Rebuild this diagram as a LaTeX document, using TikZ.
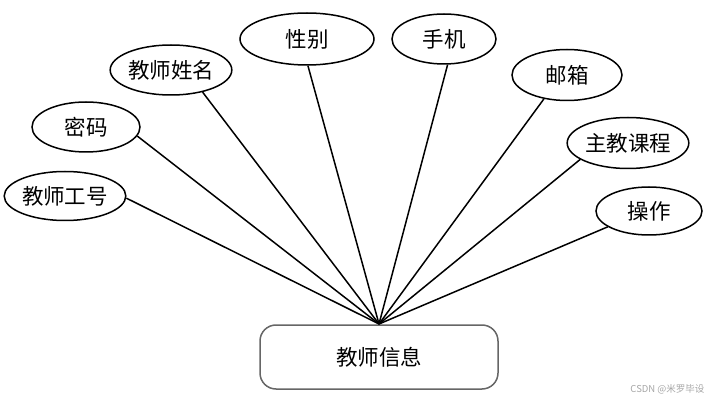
\documentclass[tikz,border=0pt]{standalone}
\usepackage{fontspec}
\newfontfamily\cjk{Noto Sans CJK SC}
\usetikzlibrary{shapes.geometric}
\begin{document}
\begin{tikzpicture}[x=1pt,y=-1pt,
  attr/.style={draw=black,line width=1.5pt,ellipse,inner sep=0pt,font=\cjk\fontsize{21.5}{24}\selectfont},
  ent/.style={draw=black!60,line width=1.5pt,rounded corners=16pt,minimum width=238pt,minimum height=64pt,inner sep=0pt,font=\cjk\fontsize{21.5}{24}\selectfont},
  link/.style={line width=1.5pt}]
\useasboundingbox (0,0) rectangle (713,401);
\node[ent] (t) at (379,357) {教师信息};
\coordinate (p) at (379,324);
\node[attr,minimum width=110pt,minimum height=49pt] (a1) at (65,196) {教师工号};
\node[attr,minimum width=108pt,minimum height=50pt] (a2) at (86,127) {密码};
\node[attr,minimum width=112pt,minimum height=50pt] (a3) at (171,70) {教师姓名};
\node[attr,minimum width=134pt,minimum height=52pt] (a4) at (307,39) {性别};
\node[attr,minimum width=104pt,minimum height=50pt] (a5) at (444,39) {手机};
\node[attr,minimum width=110pt,minimum height=51pt] (a6) at (567,75) {邮箱};
\node[attr,minimum width=108pt,minimum height=51pt] (a7) at (628,143) {主教课程};
\node[attr,minimum width=106pt,minimum height=48pt] (a8) at (649,211) {操作};
\draw[link] (a1.-2) -- (p);
\draw[link] (a2.-10) -- (p);
\draw[link] (a3.-35) -- (p);
\draw[link] (a4.-88) -- (p);
\draw[link] (a5.-82) -- (p);
\draw[link] (a6.-134) -- (p);
\draw[link] (a7.-161) -- (p);
\draw[link] (a8.-159) -- (p);
\node[font=\cjk\fontsize{9.5}{11}\selectfont,text=black!35,anchor=east] (wm) at (708,389) {CSDN @米罗毕设};
\end{tikzpicture}
\end{document}
